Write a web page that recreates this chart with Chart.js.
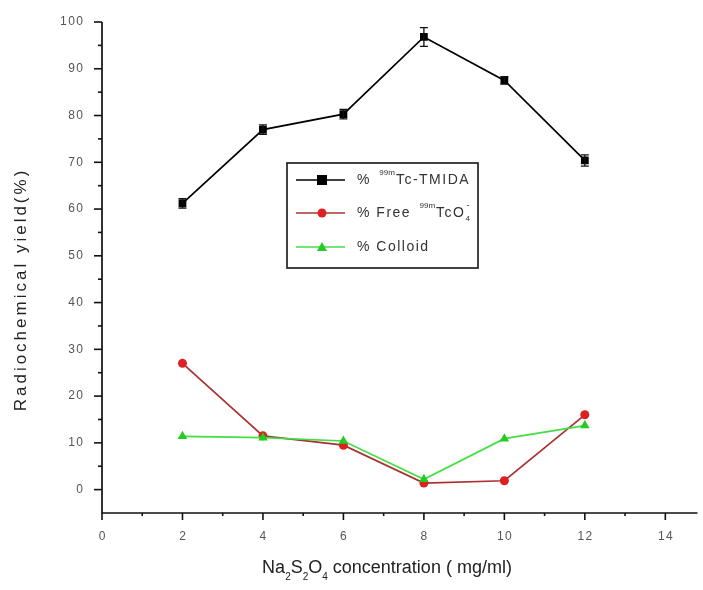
<!DOCTYPE html>
<html><head><meta charset="utf-8">
<script src="https://cdn.jsdelivr.net/npm/chart.js@4/dist/chart.umd.min.js"></script>
<style>html,body{margin:0;padding:0;background:#fff}#wrap{width:703px;height:590px}</style>
</head><body><div id="wrap"><canvas id="c" width="703" height="590"></canvas></div>
<script>
const concentrations = [2, 4, 6, 8, 10, 12];
const tmidaYield = [61.2, 77, 80.3, 96.8, 87.5, 70.4];
const tmidaError = [1, 1, 1, 2, 0.8, 1.2];
const freeTcO4 = [27, 11.5, 9.5, 1.4, 1.9, 16];
const colloid = [11.4, 11.1, 10.4, 2.2, 10.9, 13.7];
const xTickValues = [0, 2, 4, 6, 8, 10, 12, 14];
const yTickValues = [0, 10, 20, 30, 40, 50, 60, 70, 80, 90, 100];
const xTitleParts = [['Na', 'n'], ['2', 'sub'], ['S', 'n'], ['2', 'sub'], ['O', 'n'], ['4', 'sub'], [' concentration ( mg/ml)', 'n']];
const yTitle = 'Radiochemical yield(%)';

const toPts = (ys) => concentrations.map((x, i) => ({x: x, y: ys[i]}));
const FAM = '"Liberation Sans", Arial, sans-serif';

function txt(ctx, s, x, y, size, align, spacing, color) {
  ctx.font = size + 'px ' + FAM;
  ctx.letterSpacing = (spacing || 0) + 'px';
  ctx.fillStyle = color || '#333';
  ctx.textBaseline = 'middle';
  const w = ctx.measureText(s).width - (spacing || 0);
  let sx = x;
  if (align === 'center') sx = x - w / 2;
  else if (align === 'right') sx = x - w;
  ctx.textAlign = 'left';
  ctx.fillText(s, sx, y);
  return w + (spacing || 0);
}

const axesPlugin = {
  id: 'axesPlugin',
  afterDraw(chart) {
    const ctx = chart.ctx, xs = chart.scales.x, ys = chart.scales.y;
    const a = chart.chartArea;
    ctx.save();
    ctx.strokeStyle = '#111';
    ctx.lineWidth = 1.7;
    ctx.beginPath();
    ctx.moveTo(a.left, ys.getPixelForValue(100));
    ctx.lineTo(a.left, a.bottom);
    ctx.lineTo(a.right, a.bottom);
    ctx.stroke();
    ctx.lineWidth = 1.6;
    for (let v = 0; v <= 14; v++) {
      const px = xs.getPixelForValue(v);
      const len = v % 2 === 0 ? 7 : 3;
      ctx.beginPath(); ctx.moveTo(px, a.bottom); ctx.lineTo(px, a.bottom + len); ctx.stroke();
    }
    for (let v = 0; v <= 100; v += 5) {
      const py = ys.getPixelForValue(v);
      const len = v % 10 === 0 ? 8 : 4;
      ctx.beginPath(); ctx.moveTo(a.left, py); ctx.lineTo(a.left - len, py); ctx.stroke();
    }
    // tick labels
    xTickValues.forEach(v => txt(ctx, String(v), xs.getPixelForValue(v), a.bottom + 24, 12, 'center', 1.5, '#555'));
    yTickValues.forEach(v => txt(ctx, String(v), a.left - 19, ys.getPixelForValue(v), 12, 'right', 1.5, '#555'));
    // x title
    {
      const big = 18, small = 10;
      let total = 0;
      ctx.letterSpacing = '0px';
      xTitleParts.forEach(p => { ctx.font = (p[1] === 'n' ? big : small) + 'px ' + FAM; total += ctx.measureText(p[0]).width; });
      let x = 387 - total / 2;
      const yb = 568;
      xTitleParts.forEach(p => {
        const s = p[1] === 'n' ? big : small;
        x += txt(ctx, p[0], x, yb + (p[1] === 'sub' ? 9 : 0), s, 'left', 0, '#222');
      });
    }
    // y title
    ctx.save();
    ctx.translate(21, 291);
    ctx.rotate(-Math.PI / 2);
    txt(ctx, yTitle, 0, 0, 17, 'center', 3, '#222');
    ctx.restore();
    // error bars
    ctx.strokeStyle = '#111';
    ctx.lineWidth = 1.3;
    concentrations.forEach((x, i) => {
      const px = xs.getPixelForValue(x);
      const top = ys.getPixelForValue(tmidaYield[i] + tmidaError[i]);
      const bot = ys.getPixelForValue(tmidaYield[i] - tmidaError[i]);
      ctx.beginPath();
      ctx.moveTo(px, top); ctx.lineTo(px, bot);
      ctx.moveTo(px - 4, top); ctx.lineTo(px + 4, top);
      ctx.moveTo(px - 4, bot); ctx.lineTo(px + 4, bot);
      ctx.stroke();
    });
    // legend
    const lx = a.left + 185, ly = 163, lw = 191, lh = 105;
    ctx.lineWidth = 1.7;
    ctx.strokeStyle = '#222';
    ctx.strokeRect(lx, ly, lw, lh);
    const rows = [
      {y: ly + 17, color: '#000', mcolor: '#000', shape: 'square'},
      {y: ly + 50, color: '#a83232', mcolor: '#dd2020', shape: 'circle'},
      {y: ly + 84, color: '#44dd44', mcolor: '#22cc22', shape: 'triangle'}
    ];
    rows.forEach(r => {
      ctx.strokeStyle = r.color; ctx.lineWidth = 1.7;
      ctx.beginPath(); ctx.moveTo(lx + 9, r.y); ctx.lineTo(lx + 58, r.y); ctx.stroke();
      ctx.fillStyle = r.mcolor;
      const cx = lx + 35;
      ctx.beginPath();
      if (r.shape === 'square') ctx.rect(cx - 5, r.y - 5, 10, 10);
      else if (r.shape === 'circle') ctx.arc(cx, r.y, 4.5, 0, Math.PI * 2);
      else { ctx.moveTo(cx, r.y - 5); ctx.lineTo(cx + 5, r.y + 4); ctx.lineTo(cx - 5, r.y + 4); ctx.closePath(); }
      ctx.fill();
    });
    const tx = lx + 70;
    function seq(parts, y) {
      let x = tx;
      parts.forEach(p => {
        const s = p[1] === 'n' ? 14 : 8;
        const dy = p[1] === 'sup' ? -7 : (p[1] === 'sub' ? 5 : 0);
        x += txt(ctx, p[0], x, y + dy, s, 'left', p[1] === 'n' ? 1.5 : 0, '#333') + (p[2] || 0);
      });
      return x;
    }
    seq([['% ', 'n', 3], ['99m', 'sup', 1], ['Tc-TMIDA', 'n']], rows[0].y);
    const ex = seq([['% Free ', 'n', 3], ['99m', 'sup', 1], ['TcO', 'n']], rows[1].y);
    txt(ctx, '4', ex, rows[1].y + 6, 8, 'left', 0, '#333');
    txt(ctx, '-', ex + 1, rows[1].y - 7, 9, 'left', 0, '#333');
    seq([['% Colloid', 'n']], rows[2].y);
    ctx.restore();
  }
};

new Chart(document.getElementById('c'), {
  type: 'scatter',
  data: {
    datasets: [
      {label: '% 99mTc-TMIDA', data: toPts(tmidaYield), showLine: true, borderColor: '#000', backgroundColor: '#000',
       borderWidth: 1.7, pointStyle: 'rect', pointRadius: 5.5, pointBorderWidth: 0, order: 1},
      {label: '% Free 99mTcO4-', data: toPts(freeTcO4), showLine: true, borderColor: '#a83232', backgroundColor: '#dd2020',
       borderWidth: 1.7, pointStyle: 'circle', pointRadius: 4.5, pointBorderWidth: 0, order: 3},
      {label: '% Colloid', data: toPts(colloid), showLine: true, borderColor: '#44dd44', backgroundColor: '#22cc22',
       borderWidth: 1.7, pointStyle: 'triangle', pointRadius: 5.5, pointBorderWidth: 0, order: 2}
    ]
  },
  options: {
    responsive: false,
    animation: false,
    layout: {padding: {top: 22, right: 3, left: 0, bottom: 0}},
    plugins: {legend: {display: false}, tooltip: {enabled: false}},
    scales: {
      x: {
        type: 'linear', min: 0, max: 14.8,
        afterBuildTicks: s => { s.ticks = xTickValues.map(v => ({value: v})); },
        afterFit: s => { s.height = 77; },
        grid: {display: false}, border: {display: false},
        ticks: {display: false}
      },
      y: {
        type: 'linear', min: -5, max: 100,
        afterBuildTicks: s => { s.ticks = yTickValues.map(v => ({value: v})); },
        afterFit: s => { s.width = 102; },
        grid: {display: false}, border: {display: false},
        ticks: {display: false}
      }
    }
  },
  plugins: [axesPlugin]
});
</script></body></html>
